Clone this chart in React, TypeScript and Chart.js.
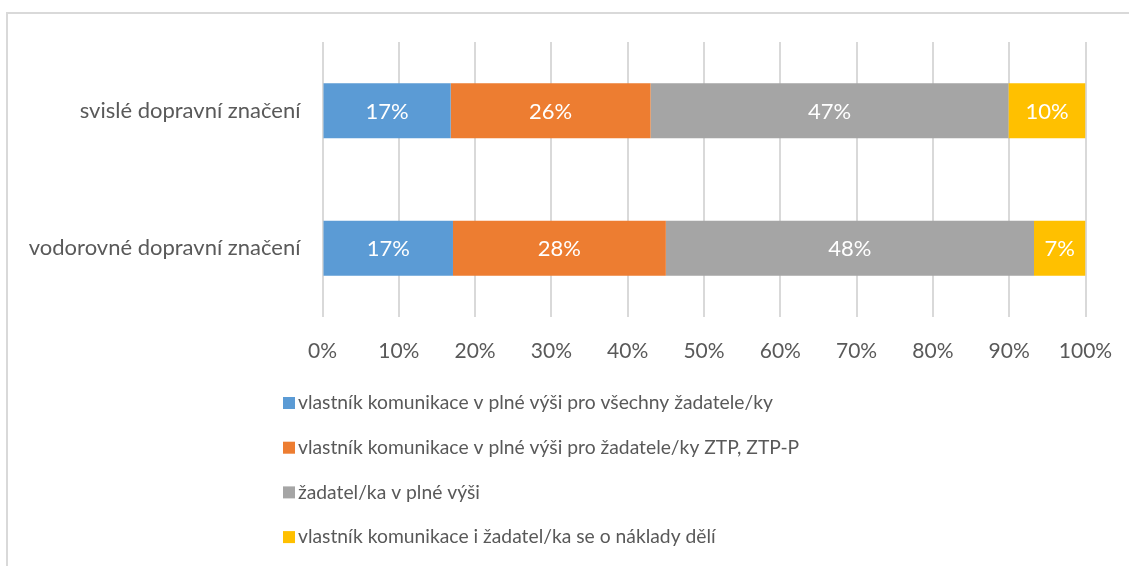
import React, { useEffect, useRef } from 'react';
import { Chart, registerables } from 'chart.js';

Chart.register(...registerables);

const categories = ['svislé dopravní značení', 'vodorovné dopravní značení'];
const seriesNames = [
  'vlastník komunikace v plné výši pro všechny žadatele/ky',
  'vlastník komunikace v plné výši pro žadatele/ky ZTP, ZTP-P',
  'žadatel/ka v plné výši',
  'vlastník komunikace i žadatel/ka se o náklady dělí',
];
const seriesColors = ['#5B9BD5', '#ED7D31', '#A5A5A5', '#FFC000'];
const ownerAll = [16.8, 17.1];
const ownerZtp = [26.2, 27.9];
const applicantFull = [46.9, 48.25];
const sharedCosts = [10.1, 6.75];
const seriesValues = [ownerAll, ownerZtp, applicantFull, sharedCosts];
const axisMin = 0;
const axisMax = 100;
const axisStep = 10;

const FONT = 'Lato, "Open Sans", sans-serif';
const TEXT = '#595959';

const framePlugin = {
  id: 'frame',
  beforeDraw(chart: any) {
    const ctx = chart.ctx;
    ctx.save();
    ctx.fillStyle = '#ffffff';
    ctx.fillRect(0, 0, chart.width, chart.height);
    ctx.strokeStyle = '#d9d9d9';
    ctx.lineWidth = 2;
    ctx.beginPath();
    ctx.moveTo(7, chart.height);
    ctx.lineTo(7, 13);
    ctx.lineTo(chart.width, 13);
    ctx.stroke();
    ctx.restore();
  },
};

const labelPlugin = {
  id: 'barLabels',
  afterDatasetsDraw(chart: any) {
    const ctx = chart.ctx;
    ctx.save();
    ctx.font = `22px ${FONT}`;
    ctx.fillStyle = '#ffffff';
    ctx.textAlign = 'center';
    ctx.textBaseline = 'middle';
    chart.data.datasets.forEach((ds: any, di: number) => {
      const meta = chart.getDatasetMeta(di);
      meta.data.forEach((el: any, i: number) => {
        const v = ds.data[i];
        const cx = (el.x + el.base) / 2;
        ctx.fillText(Math.round(v) + '%', cx, el.y + 1);
      });
    });
    ctx.restore();
  },
};

const legendPlugin = {
  id: 'legendList',
  afterDraw(chart: any) {
    const ctx = chart.ctx;
    ctx.save();
    ctx.font = `19.3px ${FONT}`;
    ctx.textAlign = 'left';
    ctx.textBaseline = 'middle';
    const x0 = 283;
    const y0 = 403;
    const gap = 44.7;
    chart.data.datasets.forEach((ds: any, i: number) => {
      const y = y0 + i * gap;
      ctx.fillStyle = ds.backgroundColor;
      ctx.fillRect(x0, y - 6, 12, 12);
      ctx.fillStyle = TEXT;
      ctx.fillText(ds.label, x0 + 15, y);
    });
    ctx.restore();
  },
};

export default function App() {
  const ref = useRef<HTMLCanvasElement | null>(null);
  useEffect(() => {
    document.body.style.margin = '0';
    if (!ref.current) return;
    const chart = new Chart(ref.current, {
      type: 'bar',
      data: {
        labels: categories,
        datasets: seriesValues.map((vals, i) => ({
          label: seriesNames[i],
          data: vals,
          backgroundColor: seriesColors[i],
          borderWidth: 0,
          categoryPercentage: 1,
          barPercentage: 0.4,
        })),
      },
      options: {
        indexAxis: 'y',
        responsive: false,
        animation: false,
        devicePixelRatio: 1,
        layout: { padding: { top: 42, right: 43.5, bottom: 0, left: 0 } },
        plugins: {
          legend: { display: false },
          tooltip: { enabled: false },
        },
        scales: {
          x: {
            stacked: true,
            min: axisMin,
            max: axisMax,
            ticks: {
              stepSize: axisStep,
              callback: (v: any) => v + '%',
              color: TEXT,
              font: { family: FONT, size: 21 },
              padding: 22,
              maxRotation: 0,
              autoSkip: false,
            },
            grid: { color: '#d9d9d9', lineWidth: 2, drawTicks: false },
            border: { display: false },
            afterFit: (s: any) => {
              s.height = 249;
              s.paddingLeft = 0;
              s.paddingRight = 0;
            },
          },
          y: {
            stacked: true,
            ticks: {
              color: TEXT,
              font: { family: FONT, size: 22 },
              padding: 22,
            },
            grid: { display: false, drawTicks: false },
            border: { display: false },
            afterFit: (s: any) => {
              s.width = 322.5;
              s.paddingTop = 0;
              s.paddingBottom = 0;
            },
          },
        },
      },
      plugins: [framePlugin, labelPlugin, legendPlugin],
    });
    return () => chart.destroy();
  }, []);
  return (
    <div style={{ width: 1129, height: 566 }}>
      <canvas ref={ref} width={1129} height={566} style={{ display: 'block' }} />
    </div>
  );
}
